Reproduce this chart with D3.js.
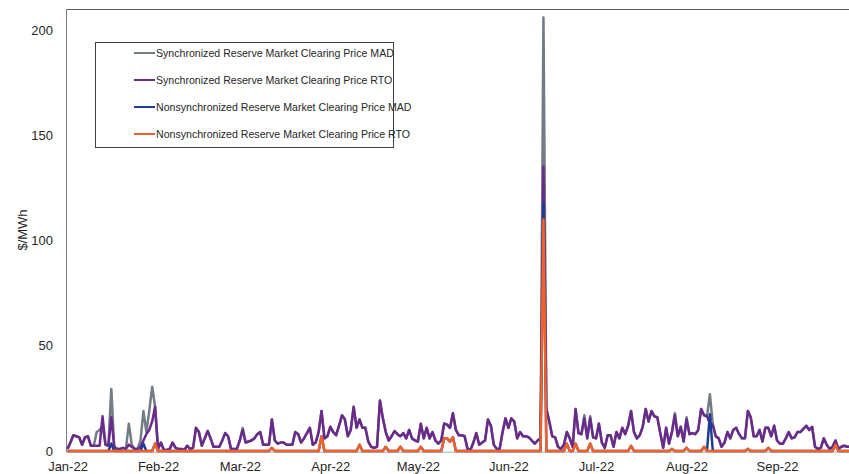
<!DOCTYPE html>
<html lang="en">
<head>
  <meta charset="UTF-8">
  <title>Reserve market clearing prices</title>
  <script src="https://d3js.org/d3.v7.min.js"></script>
  <style>
    body {margin: 0; padding: 0; background: #fff;}
    svg {display: block; font-family: "Liberation Sans Narrow", "Arial Narrow", "Liberation Sans", Arial, sans-serif;}
    .axis text {font-size: 13px; fill: #262626;}
    .legend text {font-size: 10.6px; fill: #262626;}
  </style>
</head>
<body>
  <div id="chart"></div>
  <script>
    // daily values from 1 Jan 2022, $/MWh
    const startDate = new Date(Date.UTC(2022, 0, 1));

    const seriesNames = [
      "Synchronized Reserve Market Clearing Price MAD",
      "Synchronized Reserve Market Clearing Price RTO",
      "Nonsynchronized Reserve Market Clearing Price MAD",
      "Nonsynchronized Reserve Market Clearing Price RTO"
    ];
    const seriesColors = ["#717c86", "#6a2a8c", "#1f3c93", "#f1622a"];

    const syncRTO = [
      1, 4, 7.5, 7, 6.5, 3, 6.5, 7, 2.5, 2.5,
      2.5, 2.5, 16.5, 3, 2.5, 16, 2, 1, 1, 1.5,
      1, 3, 2, 1, 1, 2, 5, 8, 10, 14,
      21, 1, 4, 0.5, 0.5, 1, 4, 1.5, 1, 1,
      0.5, 2.5, 1, 1.5, 11, 9, 2.5, 6, 9.5, 6,
      2, 2, 2, 5, 8.5, 7, 1, 1, 1, 5,
      10, 4, 4.5, 5, 6, 8, 9, 3, 3, 3,
      15, 5, 3.5, 4, 4, 3, 3, 3, 9, 8,
      4, 6, 8.5, 11, 3, 4, 9, 19, 6, 7,
      11.5, 9, 7.5, 12, 17, 15, 7, 10, 21, 11,
      15, 11, 11, 4.5, 2, 1.5, 2, 24, 15.5, 9,
      5, 7, 9.5, 8, 7, 8.5, 6, 10, 6, 5,
      4.5, 13, 6, 11, 6, 9, 5, 3.5, 5, 13,
      12.5, 11, 18, 10, 7.5, 7.5, 7, 1, 0.5, 4,
      8.5, 3, 4, 5, 15, 12, 3, 1, 1, 9,
      15.5, 11, 15.5, 14, 6, 9, 7, 7, 6.5, 5,
      3.5, 5, 6, 135, 20, 14, 7, 6.5, 2, 1,
      3, 9, 6, 2, 20, 8.5, 8, 15.5, 6, 15.5,
      6.5, 6, 13, 4, 1.5, 7.5, 7.5, 2, 9, 6,
      11, 8, 12, 19, 9, 6, 7.5, 11.5, 20, 14,
      19, 16.5, 16, 8.5, 1.5, 11, 3.5, 9, 17, 7,
      11.5, 4.5, 15, 8, 8.5, 8, 10, 20, 17, 16.5,
      13, 12.5, 7, 6, 2, 4, 9, 6, 10, 11,
      8, 6, 6, 19, 16, 7, 7, 10, 4.5, 11,
      11, 7, 12, 5, 3.5, 3.5, 6, 9, 6, 6.5,
      9, 9, 10.5, 12, 10, 11.5, 2, 1, 1.5, 6,
      3, 1, 2, 5, 1, 2, 2.5, 2, 2
    ];

    const syncMAD = [
      1, 4, 7.5, 7, 6.5, 3, 6.5, 7, 2.5, 2.5,
      9, 10, 12, 3, 2.5, 29.5, 2, 1, 1, 1.5,
      1, 13, 3, 1, 1, 5, 19, 9, 19, 30.5,
      21, 1, 4, 0.5, 0.5, 1, 4, 1.5, 1, 1,
      0.5, 2.5, 1, 1.5, 11, 9, 2.5, 6, 9.5, 6,
      2, 2, 2, 5, 8.5, 7, 1, 1, 1, 5,
      11, 4, 4.5, 5, 6, 8, 9, 3, 3, 3,
      15, 5, 3.5, 4, 4, 3, 3, 3, 9, 8,
      4, 6, 8.5, 11, 3, 4, 9, 19, 6, 7,
      11.5, 9, 7.5, 12, 17, 15, 7, 10, 21, 11,
      15, 11, 11, 4.5, 2, 1.5, 2, 24, 15.5, 9,
      5, 7, 9.5, 8, 7, 8.5, 6, 10, 6, 5,
      4.5, 13, 6, 11, 6, 9, 5, 3.5, 5, 13,
      12.5, 11, 18, 10, 7.5, 7.5, 7, 1, 0.5, 4,
      8.5, 3, 4, 5, 15, 12, 3, 1, 1, 9,
      15.5, 11, 15.5, 14, 6, 9, 7, 7, 6.5, 5,
      3.5, 5, 6, 206, 20, 14, 7, 6.5, 2, 1,
      3, 9, 6, 2, 20, 8.5, 8, 17, 6, 16.5,
      6.5, 6, 13, 4, 1.5, 7.5, 7.5, 2, 9, 6,
      11, 8, 12, 19, 9, 6, 7.5, 11.5, 20, 14,
      19, 16.5, 16, 8.5, 1.5, 11, 3.5, 9, 18, 7,
      11.5, 4.5, 16, 8, 8.5, 8, 10, 20, 17, 16.5,
      27, 12.5, 7, 6, 2, 4, 9, 6, 10, 11,
      8, 6, 6, 19, 16, 7, 7, 10, 4.5, 11,
      11, 7, 12, 5, 3.5, 3.5, 6, 9, 6, 6.5,
      9, 9, 10.5, 12, 10, 11.5, 2, 1, 1.5, 6,
      3, 1, 2, 5, 1, 2, 2.5, 2, 2
    ];

    // nonsynchronized prices are zero except on these days: [day index, value]
    const nonsyncMADDays = [
      [15, 3.5], [26, 3.5], [30, 3.5], [70, 1.5], [87, 7], [100, 3], [109, 2],
      [114, 2], [121, 2], [129, 6], [130, 6], [131, 4.5], [132, 6.5], [163, 118],
      [171, 3.5], [174, 3.5], [179, 3.5], [193, 2.5], [207, 1], [212, 1.5],
      [218, 2], [220, 17.5], [233, 1], [240, 1.5], [263, 3]
    ];
    const nonsyncRTODays = [
      [30, 3.5], [70, 1.5], [87, 7], [100, 3], [109, 2], [114, 2], [121, 2],
      [129, 6], [130, 6], [131, 4.5], [132, 6.5], [163, 110], [171, 3.5],
      [174, 3.5], [179, 3.5], [193, 2.5], [207, 1], [212, 1.5], [218, 2],
      [233, 1], [240, 1.5], [263, 3]
    ];

    const yTicks = [0, 50, 100, 150, 200];

    const width = 849, height = 474;
    const plot = {left: 66, top: 9, bottom: 451};
    const pxPerDay = 2.92;
    const nDays = syncRTO.length;

    const dates = syncRTO.map((_, i) => d3.utcDay.offset(startDate, i));
    function sparse(days) {
      const m = new Map(days);
      return dates.map((d, i) => ({date: d, value: m.has(i) ? m.get(i) : 0}));
    }
    const series = [
      dates.map((d, i) => ({date: d, value: syncMAD[i]})),
      dates.map((d, i) => ({date: d, value: syncRTO[i]})),
      sparse(nonsyncMADDays),
      sparse(nonsyncRTODays)
    ];

    const svg = d3.select("#chart").append("svg")
      .attr("width", width).attr("height", height);

    const x = d3.scaleUtc()
      .domain([startDate, d3.utcDay.offset(startDate, nDays)])
      .range([plot.left + 1.5, plot.left + 1.5 + nDays * pxPerDay]);
    const y = d3.scaleLinear().domain([0, 210]).range([plot.bottom, plot.top]);

    // frame
    svg.append("line")
      .attr("x1", plot.left).attr("x2", width)
      .attr("y1", plot.top + 0.5).attr("y2", plot.top + 0.5)
      .attr("stroke", "#595959");
    svg.append("line")
      .attr("x1", plot.left + 0.5).attr("x2", plot.left + 0.5)
      .attr("y1", plot.top).attr("y2", plot.bottom + 1)
      .attr("stroke", "#7f7f7f");
    svg.append("line")
      .attr("x1", plot.left).attr("x2", width)
      .attr("y1", plot.bottom + 1.2).attr("y2", plot.bottom + 1.2)
      .attr("stroke", "#c8c8c8").attr("stroke-width", 1.5);

    const yAxis = svg.append("g").attr("class", "axis")
      .attr("transform", `translate(${plot.left},0)`)
      .call(d3.axisLeft(y).tickValues(yTicks).tickSize(0).tickPadding(13));
    yAxis.select(".domain").remove();

    const xAxis = svg.append("g").attr("class", "axis")
      .attr("transform", `translate(0,${plot.bottom})`)
      .call(d3.axisBottom(x).ticks(d3.utcMonth.every(1))
        .tickFormat(d3.utcFormat("%b-%y")).tickSize(0).tickPadding(11));
    xAxis.select(".domain").remove();

    svg.append("text")
      .attr("class", "axis")
      .attr("transform", "translate(27,230) rotate(-90)")
      .attr("text-anchor", "middle")
      .style("font-size", "13px").style("fill", "#262626")
      .text("$/MWh");

    const line = d3.line().x(d => x(d.date)).y(d => y(d.value));
    svg.append("g").selectAll("path")
      .data(series)
      .join("path")
        .attr("d", line)
        .attr("fill", "none")
        .attr("stroke", (d, i) => seriesColors[i])
        .attr("stroke-width", 2.5)
        .attr("stroke-linejoin", "round");

    // legend
    const legend = svg.append("g").attr("class", "legend");
    legend.append("rect")
      .attr("x", 95.5).attr("y", 42.5).attr("width", 298).attr("height", 105)
      .attr("fill", "#fff").attr("stroke", "#404040");
    const rowY = d3.scalePoint().domain(seriesNames).range([53, 134]);
    const item = legend.selectAll("g.item").data(seriesNames).join("g")
      .attr("class", "item")
      .attr("transform", d => `translate(0,${rowY(d)})`);
    item.append("line")
      .attr("x1", 134).attr("x2", 155)
      .attr("stroke", (d, i) => seriesColors[i]).attr("stroke-width", 2);
    item.append("text")
      .attr("x", 156).attr("dy", "0.35em")
      .text(d => d);
  </script>
</body>
</html>
